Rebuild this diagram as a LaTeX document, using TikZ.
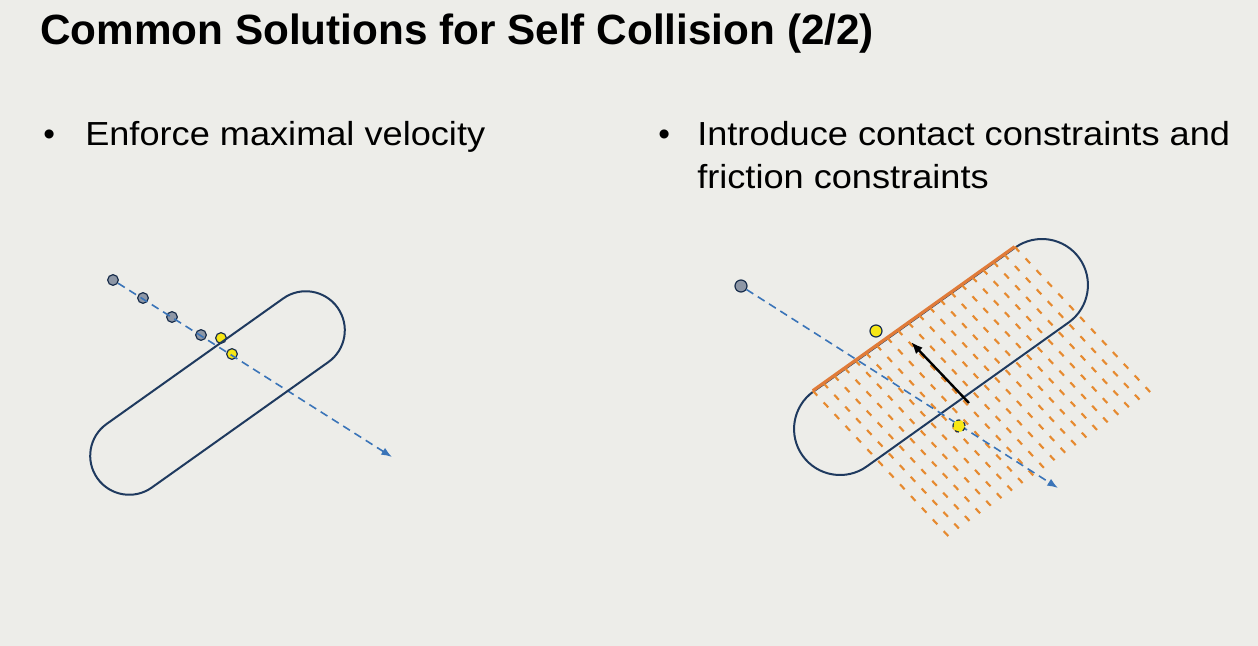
\documentclass[tikz,border=0pt]{standalone}
\usepackage{fontspec}
\setmainfont{Liberation Sans}
\usetikzlibrary{arrows.meta,shapes.misc,calc}
\definecolor{slidebg}{HTML}{EDEDE9}
\definecolor{navy}{HTML}{1F3A5F}
\definecolor{velblue}{HTML}{3A74B8}
\definecolor{contact}{HTML}{E07B39}
\definecolor{hatch}{HTML}{E68A30}
\definecolor{dotgrey}{HTML}{8E97A6}
\definecolor{dotyellow}{HTML}{F7E715}
\newcommand{\slidetext}[1]{\scalebox{1.085}[1]{#1}}
\begin{document}
\begin{tikzpicture}[
		x=0.75pt, y=-0.75pt,
		capsule/.style={draw=navy,line width=1.5pt,rounded rectangle,inner sep=0pt},
		velo/.style={velblue,line width=1.2pt,dash pattern=on 6pt off 4pt,-{Latex[length=8pt,width=6pt]}},
		olddot/.style={circle,draw=navy!80!black,fill=dotgrey,line width=0.9pt,minimum size=8pt,inner sep=0pt},
		newdot/.style={circle,draw=navy!80!black,fill=dotyellow,line width=0.9pt,minimum size=8pt,inner sep=0pt},
		bullettext/.style={anchor=base west,font=\fontsize{25}{30}\selectfont,inner sep=0pt}
		]
		\fill[slidebg] (0,0) rectangle (1258,646);
		\useasboundingbox (0,0) rectangle (1258,646);
		\node[anchor=base west,inner sep=0pt,font=\fontsize{31.7}{38}\bfseries] (title) at (40,45) {Common Solutions for Self Collision (2/2)};
		\node[bullettext] (b1) at (43,145) {\textbullet};
		\node[bullettext] (t1) at (85,145) {\slidetext{Enforce maximal velocity}};
		\node[bullettext] (b2) at (658,145) {\textbullet};
		\node[bullettext] (t2) at (697,145) {\slidetext{Introduce contact constraints and}};
		\node[bullettext] (t3) at (697,188) {\slidetext{friction constraints}};
		
		\node[olddot] (g1) at (113,280) {};
		\node[olddot] (g2) at (143,298) {};
		\node[olddot] (g3) at (172,317) {};
		\node[olddot] (g4) at (201,335) {};
		\node[newdot] (y1) at (221,338) {};
		\node[newdot] (y2) at (232,354) {};
		\coordinate (endL) at (392,457);
		\draw[velo] (g1) -- (endL);
		\node[capsule,minimum width=221pt,minimum height=58.5pt,rotate=35.4] (capL) at (217.5,393) {};
		
		\node[capsule,minimum width=255pt,minimum height=69pt,rotate=35.5] (capR) at (941,357) {};
		\foreach \i in {0,...,19}
			\draw[hatch,line width=1.6pt,dash pattern=on 5pt off 7pt] ($(capR.north west)!\i/19!(capR.north east)$) -- ++(138,148);
		\draw[contact,line width=2.4pt] (capR.north west) -- (capR.north east);
		\node[olddot,minimum size=9pt] (g5) at (741,286) {};
		\coordinate (endR) at (1058,488);
		\draw[velo] (g5) -- (endR);
		\node[newdot,minimum size=9pt] (y3) at (876,331) {};
		\node[newdot,minimum size=9pt,dashed] (y4) at (959,426) {};
		\coordinate (push) at (969,403);
		\coordinate (pushend) at (911,342);
		\draw[black,line width=1.8pt,-{Latex[length=9pt,width=7pt]}] (push) -- (pushend);
	\end{tikzpicture}
\end{document}
